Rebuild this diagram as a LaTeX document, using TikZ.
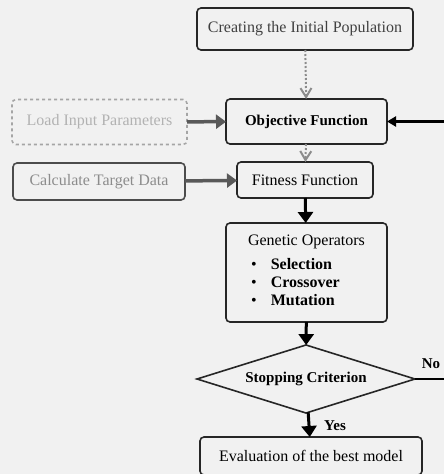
\documentclass[tikz,border=0pt]{standalone}
\usepackage{fontspec}
\setmainfont{Liberation Serif}
\usetikzlibrary{positioning,shapes.geometric,arrows.meta}
\definecolor{ScanBg}{RGB}{241,241,241}
\definecolor{FadeGray}{RGB}{165,165,165}

\begin{document}
\begin{tikzpicture}[x=1pt,y=-1pt]
        % Styles for the blocks and arrows
        \tikzstyle{block} = [
            draw=black!85,
            line width=1.6pt,
            rounded corners=4pt,
            inner sep=0pt,
            outer sep=0pt,
            font=\fontsize{16}{18}\selectfont
        ]
        \tikzstyle{fadeblock} = [block, draw=FadeGray, text=FadeGray]
        \tikzstyle{thickarrow} = [line width=3pt, -{Triangle[width=15pt,length=11pt]}]
        \tikzstyle{fadearrow} = [line width=3.5pt, draw=black!65, -{Triangle[width=14pt,length=10pt]}]
        \tikzstyle{dotarrow} = [line width=2pt, dotted, draw=black!45, -{Straight Barb[width=11pt,length=9pt]}]
        \tikzstyle{lbl} = [font=\bfseries\fontsize{15}{17}\selectfont, inner sep=0pt]

        % Background of the page
        \fill[ScanBg] (0,0) rectangle (444,474);
        \useasboundingbox (0,0) rectangle (444,474);

        % Main column
        \node[block, minimum width=216, minimum height=42, text=black!75] (init) at (305,29) {Creating the Initial Population};
        \node[block, minimum width=161, minimum height=45, font=\bfseries\fontsize{15}{18}\selectfont] (obj) at (306.5,121.5) {Objective Function};
        \node[block, minimum width=136, minimum height=36] (fit) at (305,180) {Fitness Function};
        \node[block, minimum width=161, minimum height=99, align=center] (gen) at (306.5,272.5)
            {Genetic Operators\\[7pt]\begin{tabular}{@{}l@{}}\textbullet\hspace{14pt}\textbf{Selection}\\
             \textbullet\hspace{14pt}\textbf{Crossover}\\
             \textbullet\hspace{14pt}\textbf{Mutation}\end{tabular}\hspace*{22pt}};
        \node[block, diamond, rounded corners=0pt, aspect=3.2, minimum width=218, minimum height=68,
              font=\bfseries\fontsize{15}{18}\selectfont] (stop) at (306,379) {Stopping Criterion};
        \node[block, minimum width=222, minimum height=38] (eval) at (311,456) {Evaluation of the best model};

        % Inputs on the left
        \node[fadeblock, minimum width=175, minimum height=45, text=black!30, dashed] (load) at (99.5,122) {Load Input Parameters};
        \node[fadeblock, minimum width=172, minimum height=37, draw=black!70, text=black!45] (calc) at (99,181.5) {Calculate Target Data};

        % Arrows
        \draw[dotarrow] (init) -- (obj);
        \draw[dotarrow] (obj) -- (fit);
        \draw[fadearrow] (load) -- (obj);
        \draw[fadearrow] (calc) -- (fit);
        \draw[thickarrow] (fit) -- (gen);
        \draw[thickarrow] (gen) -- (stop);
        \draw[thickarrow] (stop) -- (eval);

        % Loop back when the criterion is not met
        \coordinate (loop) at (462,0);
        \draw[line width=2.5pt, -{Triangle[width=10pt,length=9pt]}] (stop.east) -- (stop.east -| loop) |- (obj.east);
        \node[lbl] (no) at (431,364) {No};
        \node[lbl] (yes) at (335,426) {Yes};
\end{tikzpicture}
\end{document}
